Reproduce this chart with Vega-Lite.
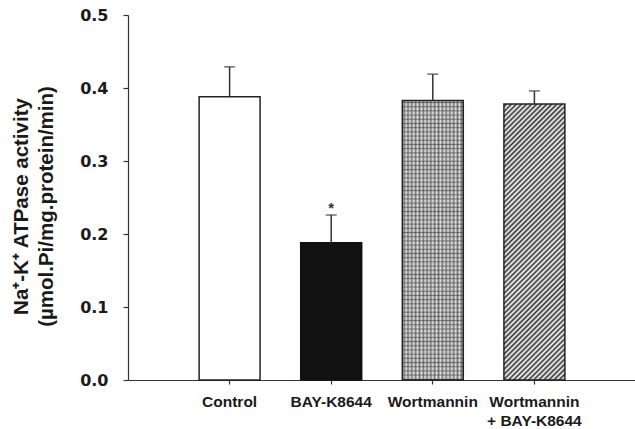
{
  "$schema": "https://vega.github.io/schema/vega-lite/v6.json",
  "autosize": {"type": "none"},
  "padding": {"left": 128, "top": 15, "right": 0, "bottom": 49},
  "width": 508,
  "height": 365,
  "background": "#ffffff",
  "config": {"view": {"stroke": null}},
  "data": {"values": [
    {"group": "Control", "mean": 0.388, "upper": 0.429},
    {"group": "BAY-K8644", "mean": 0.188, "upper": 0.226},
    {"group": "Wortmannin", "mean": 0.383, "upper": 0.419},
    {"group": "Wortmannin + BAY-K8644", "mean": 0.378, "upper": 0.396}
  ]},
  "encoding": {
    "x": {
      "field": "group", "type": "nominal",
      "scale": {"domain": ["Control", "BAY-K8644", "Wortmannin", "Wortmannin + BAY-K8644"], "paddingInner": 0.4, "paddingOuter": 0.7},
      "axis": {
        "title": null, "labelAngle": 0,
        "labelExpr": "datum.value == 'Wortmannin + BAY-K8644' ? ['Wortmannin', '+ BAY-K8644'] : datum.label",
        "labelFont": "Liberation Sans", "labelFontWeight": "bold", "labelFontSize": 15.5, "labelColor": "#1a1a1a",
        "labelLineHeight": 19, "labelPadding": 10, "tickSize": 4, "tickColor": "#333", "domainColor": "#333", "domainWidth": 1.2, "tickWidth": 1.2
      }
    },
    "y": {
      "field": "mean", "type": "quantitative",
      "scale": {"domain": [0, 0.5]},
      "axis": {
        "title": ["Na⁺-K⁺ ATPase activity", "(µmol.Pi/mg.protein/min)"],
        "titleFont": "Liberation Sans", "titleFontWeight": "bold", "titleFontSize": 20.5, "titleColor": "#1a1a1a",
        "titleAngle": -90, "titleAlign": "center", "titleBaseline": "alphabetic", "titleLineHeight": 25,
        "titleX": -101, "titleY": 191,
        "values": [0, 0.1, 0.2, 0.3, 0.4, 0.5], "format": ".1f", "grid": false,
        "labelFont": "DejaVu Sans", "labelFontWeight": "bold", "labelFontSize": 16, "labelColor": "#1a1a1a",
        "labelPadding": 15, "tickSize": 5, "tickColor": "#333", "domainColor": "#333", "domainWidth": 1.2, "tickWidth": 1.2
      }
    }
  },
  "layer": [
    {
      "transform": [{"filter": "datum.group == 'Control'"}],
      "mark": {"type": "bar", "fill": "#ffffff", "stroke": "#222222", "strokeWidth": 1.5}
    },
    {
      "transform": [{"filter": "datum.group == 'BAY-K8644'"}],
      "mark": {"type": "bar", "fill": "#111111", "stroke": "#111111", "strokeWidth": 1.5}
    },
    {
      "transform": [{"filter": "datum.group == 'Wortmannin'"}],
      "mark": {"type": "bar", "strokeWidth": 0, "fill": {"gradient": "linear", "x1": 0, "y1": 0, "x2": 1, "y2": 0, "stops": [
        {"offset": 0, "color": "#eeeeee"}, {"offset": 0.03125, "color": "#6a6a6a"}, {"offset": 0.0625, "color": "#eeeeee"}, {"offset": 0.09375, "color": "#6a6a6a"},
        {"offset": 0.125, "color": "#eeeeee"}, {"offset": 0.15625, "color": "#6a6a6a"}, {"offset": 0.1875, "color": "#eeeeee"}, {"offset": 0.21875, "color": "#6a6a6a"},
        {"offset": 0.25, "color": "#eeeeee"}, {"offset": 0.28125, "color": "#6a6a6a"}, {"offset": 0.3125, "color": "#eeeeee"}, {"offset": 0.34375, "color": "#6a6a6a"},
        {"offset": 0.375, "color": "#eeeeee"}, {"offset": 0.40625, "color": "#6a6a6a"}, {"offset": 0.4375, "color": "#eeeeee"}, {"offset": 0.46875, "color": "#6a6a6a"},
        {"offset": 0.5, "color": "#eeeeee"}, {"offset": 0.53125, "color": "#6a6a6a"}, {"offset": 0.5625, "color": "#eeeeee"}, {"offset": 0.59375, "color": "#6a6a6a"},
        {"offset": 0.625, "color": "#eeeeee"}, {"offset": 0.65625, "color": "#6a6a6a"}, {"offset": 0.6875, "color": "#eeeeee"}, {"offset": 0.71875, "color": "#6a6a6a"},
        {"offset": 0.75, "color": "#eeeeee"}, {"offset": 0.78125, "color": "#6a6a6a"}, {"offset": 0.8125, "color": "#eeeeee"}, {"offset": 0.84375, "color": "#6a6a6a"},
        {"offset": 0.875, "color": "#eeeeee"}, {"offset": 0.90625, "color": "#6a6a6a"}, {"offset": 0.9375, "color": "#eeeeee"}, {"offset": 0.96875, "color": "#6a6a6a"},
        {"offset": 1, "color": "#eeeeee"}
      ]}}
    },
    {
      "transform": [{"filter": "datum.group == 'Wortmannin'"}],
      "mark": {"type": "bar", "stroke": "#222222", "strokeWidth": 1.5, "fill": {"gradient": "linear", "x1": 0, "y1": 0, "x2": 0, "y2": 1, "stops": [
        {"offset": 0, "color": "rgba(255,255,255,0)"}, {"offset": 0.0075, "color": "rgba(60,60,60,0.6)"}, {"offset": 0.015, "color": "rgba(255,255,255,0)"}, {"offset": 0.0225, "color": "rgba(60,60,60,0.6)"}, {"offset": 0.03, "color": "rgba(255,255,255,0)"}, {"offset": 0.0375, "color": "rgba(60,60,60,0.6)"}, {"offset": 0.045, "color": "rgba(255,255,255,0)"}, {"offset": 0.0525, "color": "rgba(60,60,60,0.6)"}, {"offset": 0.06, "color": "rgba(255,255,255,0)"}, {"offset": 0.0675, "color": "rgba(60,60,60,0.6)"},
        {"offset": 0.075, "color": "rgba(255,255,255,0)"}, {"offset": 0.0825, "color": "rgba(60,60,60,0.6)"}, {"offset": 0.09, "color": "rgba(255,255,255,0)"}, {"offset": 0.0975, "color": "rgba(60,60,60,0.6)"}, {"offset": 0.105, "color": "rgba(255,255,255,0)"}, {"offset": 0.1125, "color": "rgba(60,60,60,0.6)"}, {"offset": 0.12, "color": "rgba(255,255,255,0)"}, {"offset": 0.1275, "color": "rgba(60,60,60,0.6)"}, {"offset": 0.135, "color": "rgba(255,255,255,0)"}, {"offset": 0.1425, "color": "rgba(60,60,60,0.6)"},
        {"offset": 0.15, "color": "rgba(255,255,255,0)"}, {"offset": 0.1575, "color": "rgba(60,60,60,0.6)"}, {"offset": 0.165, "color": "rgba(255,255,255,0)"}, {"offset": 0.1725, "color": "rgba(60,60,60,0.6)"}, {"offset": 0.18, "color": "rgba(255,255,255,0)"}, {"offset": 0.1875, "color": "rgba(60,60,60,0.6)"}, {"offset": 0.195, "color": "rgba(255,255,255,0)"}, {"offset": 0.2025, "color": "rgba(60,60,60,0.6)"}, {"offset": 0.21, "color": "rgba(255,255,255,0)"}, {"offset": 0.2175, "color": "rgba(60,60,60,0.6)"},
        {"offset": 0.225, "color": "rgba(255,255,255,0)"}, {"offset": 0.2325, "color": "rgba(60,60,60,0.6)"}, {"offset": 0.24, "color": "rgba(255,255,255,0)"}, {"offset": 0.2475, "color": "rgba(60,60,60,0.6)"}, {"offset": 0.255, "color": "rgba(255,255,255,0)"}, {"offset": 0.2625, "color": "rgba(60,60,60,0.6)"}, {"offset": 0.27, "color": "rgba(255,255,255,0)"}, {"offset": 0.2775, "color": "rgba(60,60,60,0.6)"}, {"offset": 0.285, "color": "rgba(255,255,255,0)"}, {"offset": 0.2925, "color": "rgba(60,60,60,0.6)"},
        {"offset": 0.3, "color": "rgba(255,255,255,0)"}, {"offset": 0.3075, "color": "rgba(60,60,60,0.6)"}, {"offset": 0.315, "color": "rgba(255,255,255,0)"}, {"offset": 0.3225, "color": "rgba(60,60,60,0.6)"}, {"offset": 0.33, "color": "rgba(255,255,255,0)"}, {"offset": 0.3375, "color": "rgba(60,60,60,0.6)"}, {"offset": 0.345, "color": "rgba(255,255,255,0)"}, {"offset": 0.3525, "color": "rgba(60,60,60,0.6)"}, {"offset": 0.36, "color": "rgba(255,255,255,0)"}, {"offset": 0.3675, "color": "rgba(60,60,60,0.6)"},
        {"offset": 0.375, "color": "rgba(255,255,255,0)"}, {"offset": 0.3825, "color": "rgba(60,60,60,0.6)"}, {"offset": 0.39, "color": "rgba(255,255,255,0)"}, {"offset": 0.3975, "color": "rgba(60,60,60,0.6)"}, {"offset": 0.405, "color": "rgba(255,255,255,0)"}, {"offset": 0.4125, "color": "rgba(60,60,60,0.6)"}, {"offset": 0.42, "color": "rgba(255,255,255,0)"}, {"offset": 0.4275, "color": "rgba(60,60,60,0.6)"}, {"offset": 0.435, "color": "rgba(255,255,255,0)"}, {"offset": 0.4425, "color": "rgba(60,60,60,0.6)"},
        {"offset": 0.45, "color": "rgba(255,255,255,0)"}, {"offset": 0.4575, "color": "rgba(60,60,60,0.6)"}, {"offset": 0.465, "color": "rgba(255,255,255,0)"}, {"offset": 0.4725, "color": "rgba(60,60,60,0.6)"}, {"offset": 0.48, "color": "rgba(255,255,255,0)"}, {"offset": 0.4875, "color": "rgba(60,60,60,0.6)"}, {"offset": 0.495, "color": "rgba(255,255,255,0)"}, {"offset": 0.5025, "color": "rgba(60,60,60,0.6)"}, {"offset": 0.51, "color": "rgba(255,255,255,0)"}, {"offset": 0.5175, "color": "rgba(60,60,60,0.6)"},
        {"offset": 0.525, "color": "rgba(255,255,255,0)"}, {"offset": 0.5325, "color": "rgba(60,60,60,0.6)"}, {"offset": 0.54, "color": "rgba(255,255,255,0)"}, {"offset": 0.5475, "color": "rgba(60,60,60,0.6)"}, {"offset": 0.555, "color": "rgba(255,255,255,0)"}, {"offset": 0.5625, "color": "rgba(60,60,60,0.6)"}, {"offset": 0.57, "color": "rgba(255,255,255,0)"}, {"offset": 0.5775, "color": "rgba(60,60,60,0.6)"}, {"offset": 0.585, "color": "rgba(255,255,255,0)"}, {"offset": 0.5925, "color": "rgba(60,60,60,0.6)"},
        {"offset": 0.6, "color": "rgba(255,255,255,0)"}, {"offset": 0.6075, "color": "rgba(60,60,60,0.6)"}, {"offset": 0.615, "color": "rgba(255,255,255,0)"}, {"offset": 0.6225, "color": "rgba(60,60,60,0.6)"}, {"offset": 0.63, "color": "rgba(255,255,255,0)"}, {"offset": 0.6375, "color": "rgba(60,60,60,0.6)"}, {"offset": 0.645, "color": "rgba(255,255,255,0)"}, {"offset": 0.6525, "color": "rgba(60,60,60,0.6)"}, {"offset": 0.66, "color": "rgba(255,255,255,0)"}, {"offset": 0.6675, "color": "rgba(60,60,60,0.6)"},
        {"offset": 0.675, "color": "rgba(255,255,255,0)"}, {"offset": 0.6825, "color": "rgba(60,60,60,0.6)"}, {"offset": 0.69, "color": "rgba(255,255,255,0)"}, {"offset": 0.6975, "color": "rgba(60,60,60,0.6)"}, {"offset": 0.705, "color": "rgba(255,255,255,0)"}, {"offset": 0.7125, "color": "rgba(60,60,60,0.6)"}, {"offset": 0.72, "color": "rgba(255,255,255,0)"}, {"offset": 0.7275, "color": "rgba(60,60,60,0.6)"}, {"offset": 0.735, "color": "rgba(255,255,255,0)"}, {"offset": 0.7425, "color": "rgba(60,60,60,0.6)"},
        {"offset": 0.75, "color": "rgba(255,255,255,0)"}, {"offset": 0.7575, "color": "rgba(60,60,60,0.6)"}, {"offset": 0.765, "color": "rgba(255,255,255,0)"}, {"offset": 0.7725, "color": "rgba(60,60,60,0.6)"}, {"offset": 0.78, "color": "rgba(255,255,255,0)"}, {"offset": 0.7875, "color": "rgba(60,60,60,0.6)"}, {"offset": 0.795, "color": "rgba(255,255,255,0)"}, {"offset": 0.8025, "color": "rgba(60,60,60,0.6)"}, {"offset": 0.81, "color": "rgba(255,255,255,0)"}, {"offset": 0.8175, "color": "rgba(60,60,60,0.6)"},
        {"offset": 0.825, "color": "rgba(255,255,255,0)"}, {"offset": 0.8325, "color": "rgba(60,60,60,0.6)"}, {"offset": 0.84, "color": "rgba(255,255,255,0)"}, {"offset": 0.8475, "color": "rgba(60,60,60,0.6)"}, {"offset": 0.855, "color": "rgba(255,255,255,0)"}, {"offset": 0.8625, "color": "rgba(60,60,60,0.6)"}, {"offset": 0.87, "color": "rgba(255,255,255,0)"}, {"offset": 0.8775, "color": "rgba(60,60,60,0.6)"}, {"offset": 0.885, "color": "rgba(255,255,255,0)"}, {"offset": 0.8925, "color": "rgba(60,60,60,0.6)"},
        {"offset": 0.9, "color": "rgba(255,255,255,0)"}, {"offset": 0.9075, "color": "rgba(60,60,60,0.6)"}, {"offset": 0.915, "color": "rgba(255,255,255,0)"}, {"offset": 0.9225, "color": "rgba(60,60,60,0.6)"}, {"offset": 0.93, "color": "rgba(255,255,255,0)"}, {"offset": 0.9375, "color": "rgba(60,60,60,0.6)"}, {"offset": 0.945, "color": "rgba(255,255,255,0)"}, {"offset": 0.9525, "color": "rgba(60,60,60,0.6)"}, {"offset": 0.96, "color": "rgba(255,255,255,0)"}, {"offset": 0.9675, "color": "rgba(60,60,60,0.6)"},
        {"offset": 0.975, "color": "rgba(255,255,255,0)"}, {"offset": 0.9825, "color": "rgba(60,60,60,0.6)"}, {"offset": 0.99, "color": "rgba(255,255,255,0)"}, {"offset": 0.9975, "color": "rgba(60,60,60,0.6)"}
      ]}}
    },
    {
      "transform": [{"filter": "datum.group == 'Wortmannin + BAY-K8644'"}],
      "mark": {"type": "bar", "stroke": "#222222", "strokeWidth": 1.5, "fill": {"gradient": "linear", "x1": 0, "y1": 0, "x2": 0.2572, "y2": 1.164, "stops": [
        {"offset": 0, "color": "#ffffff"}, {"offset": 0.0075, "color": "#333333"}, {"offset": 0.015, "color": "#ffffff"}, {"offset": 0.0225, "color": "#333333"}, {"offset": 0.03, "color": "#ffffff"}, {"offset": 0.0375, "color": "#333333"}, {"offset": 0.045, "color": "#ffffff"}, {"offset": 0.0525, "color": "#333333"}, {"offset": 0.06, "color": "#ffffff"}, {"offset": 0.0675, "color": "#333333"},
        {"offset": 0.075, "color": "#ffffff"}, {"offset": 0.0825, "color": "#333333"}, {"offset": 0.09, "color": "#ffffff"}, {"offset": 0.0975, "color": "#333333"}, {"offset": 0.105, "color": "#ffffff"}, {"offset": 0.1125, "color": "#333333"}, {"offset": 0.12, "color": "#ffffff"}, {"offset": 0.1275, "color": "#333333"}, {"offset": 0.135, "color": "#ffffff"}, {"offset": 0.1425, "color": "#333333"},
        {"offset": 0.15, "color": "#ffffff"}, {"offset": 0.1575, "color": "#333333"}, {"offset": 0.165, "color": "#ffffff"}, {"offset": 0.1725, "color": "#333333"}, {"offset": 0.18, "color": "#ffffff"}, {"offset": 0.1875, "color": "#333333"}, {"offset": 0.195, "color": "#ffffff"}, {"offset": 0.2025, "color": "#333333"}, {"offset": 0.21, "color": "#ffffff"}, {"offset": 0.2175, "color": "#333333"},
        {"offset": 0.225, "color": "#ffffff"}, {"offset": 0.2325, "color": "#333333"}, {"offset": 0.24, "color": "#ffffff"}, {"offset": 0.2475, "color": "#333333"}, {"offset": 0.255, "color": "#ffffff"}, {"offset": 0.2625, "color": "#333333"}, {"offset": 0.27, "color": "#ffffff"}, {"offset": 0.2775, "color": "#333333"}, {"offset": 0.285, "color": "#ffffff"}, {"offset": 0.2925, "color": "#333333"},
        {"offset": 0.3, "color": "#ffffff"}, {"offset": 0.3075, "color": "#333333"}, {"offset": 0.315, "color": "#ffffff"}, {"offset": 0.3225, "color": "#333333"}, {"offset": 0.33, "color": "#ffffff"}, {"offset": 0.3375, "color": "#333333"}, {"offset": 0.345, "color": "#ffffff"}, {"offset": 0.3525, "color": "#333333"}, {"offset": 0.36, "color": "#ffffff"}, {"offset": 0.3675, "color": "#333333"},
        {"offset": 0.375, "color": "#ffffff"}, {"offset": 0.3825, "color": "#333333"}, {"offset": 0.39, "color": "#ffffff"}, {"offset": 0.3975, "color": "#333333"}, {"offset": 0.405, "color": "#ffffff"}, {"offset": 0.4125, "color": "#333333"}, {"offset": 0.42, "color": "#ffffff"}, {"offset": 0.4275, "color": "#333333"}, {"offset": 0.435, "color": "#ffffff"}, {"offset": 0.4425, "color": "#333333"},
        {"offset": 0.45, "color": "#ffffff"}, {"offset": 0.4575, "color": "#333333"}, {"offset": 0.465, "color": "#ffffff"}, {"offset": 0.4725, "color": "#333333"}, {"offset": 0.48, "color": "#ffffff"}, {"offset": 0.4875, "color": "#333333"}, {"offset": 0.495, "color": "#ffffff"}, {"offset": 0.5025, "color": "#333333"}, {"offset": 0.51, "color": "#ffffff"}, {"offset": 0.5175, "color": "#333333"},
        {"offset": 0.525, "color": "#ffffff"}, {"offset": 0.5325, "color": "#333333"}, {"offset": 0.54, "color": "#ffffff"}, {"offset": 0.5475, "color": "#333333"}, {"offset": 0.555, "color": "#ffffff"}, {"offset": 0.5625, "color": "#333333"}, {"offset": 0.57, "color": "#ffffff"}, {"offset": 0.5775, "color": "#333333"}, {"offset": 0.585, "color": "#ffffff"}, {"offset": 0.5925, "color": "#333333"},
        {"offset": 0.6, "color": "#ffffff"}, {"offset": 0.6075, "color": "#333333"}, {"offset": 0.615, "color": "#ffffff"}, {"offset": 0.6225, "color": "#333333"}, {"offset": 0.63, "color": "#ffffff"}, {"offset": 0.6375, "color": "#333333"}, {"offset": 0.645, "color": "#ffffff"}, {"offset": 0.6525, "color": "#333333"}, {"offset": 0.66, "color": "#ffffff"}, {"offset": 0.6675, "color": "#333333"},
        {"offset": 0.675, "color": "#ffffff"}, {"offset": 0.6825, "color": "#333333"}, {"offset": 0.69, "color": "#ffffff"}, {"offset": 0.6975, "color": "#333333"}, {"offset": 0.705, "color": "#ffffff"}, {"offset": 0.7125, "color": "#333333"}, {"offset": 0.72, "color": "#ffffff"}, {"offset": 0.7275, "color": "#333333"}, {"offset": 0.735, "color": "#ffffff"}, {"offset": 0.7425, "color": "#333333"},
        {"offset": 0.75, "color": "#ffffff"}, {"offset": 0.7575, "color": "#333333"}, {"offset": 0.765, "color": "#ffffff"}, {"offset": 0.7725, "color": "#333333"}, {"offset": 0.78, "color": "#ffffff"}, {"offset": 0.7875, "color": "#333333"}, {"offset": 0.795, "color": "#ffffff"}, {"offset": 0.8025, "color": "#333333"}, {"offset": 0.81, "color": "#ffffff"}, {"offset": 0.8175, "color": "#333333"},
        {"offset": 0.825, "color": "#ffffff"}, {"offset": 0.8325, "color": "#333333"}, {"offset": 0.84, "color": "#ffffff"}, {"offset": 0.8475, "color": "#333333"}, {"offset": 0.855, "color": "#ffffff"}, {"offset": 0.8625, "color": "#333333"}, {"offset": 0.87, "color": "#ffffff"}, {"offset": 0.8775, "color": "#333333"}, {"offset": 0.885, "color": "#ffffff"}, {"offset": 0.8925, "color": "#333333"},
        {"offset": 0.9, "color": "#ffffff"}, {"offset": 0.9075, "color": "#333333"}, {"offset": 0.915, "color": "#ffffff"}, {"offset": 0.9225, "color": "#333333"}, {"offset": 0.93, "color": "#ffffff"}, {"offset": 0.9375, "color": "#333333"}, {"offset": 0.945, "color": "#ffffff"}, {"offset": 0.9525, "color": "#333333"}, {"offset": 0.96, "color": "#ffffff"}, {"offset": 0.9675, "color": "#333333"},
        {"offset": 0.975, "color": "#ffffff"}, {"offset": 0.9825, "color": "#333333"}, {"offset": 0.99, "color": "#ffffff"}, {"offset": 0.9975, "color": "#333333"}
      ]}}
    },
    {
      "mark": {"type": "rule", "color": "#333333", "strokeWidth": 1.5},
      "encoding": {"y2": {"field": "upper"}}
    },
    {
      "mark": {"type": "tick", "orient": "horizontal", "size": 11, "thickness": 1.5, "color": "#333333"},
      "encoding": {"y": {"field": "upper", "type": "quantitative"}}
    },
    {
      "transform": [{"filter": "datum.group == 'BAY-K8644'"}],
      "mark": {"type": "text", "text": "*", "font": "Liberation Sans", "fontSize": 15, "fontWeight": "bold", "color": "#333333", "baseline": "alphabetic", "dy": -2},
      "encoding": {"y": {"field": "upper", "type": "quantitative"}}
    }
  ]
}
